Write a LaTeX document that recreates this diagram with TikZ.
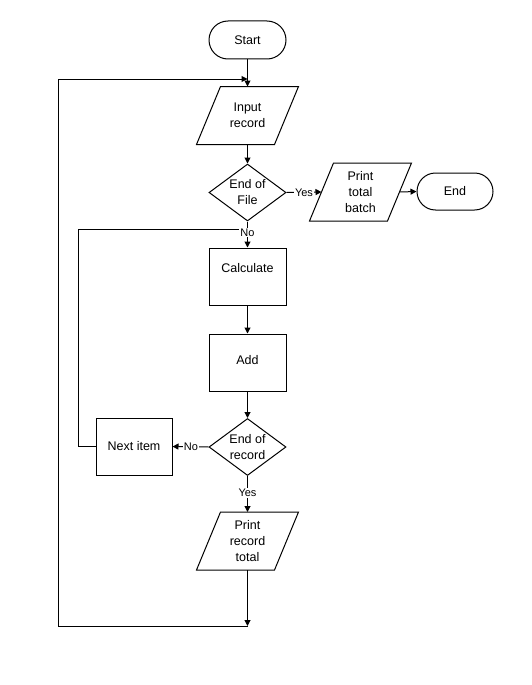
\documentclass[tikz,border=0pt]{standalone}
\usepackage{fontspec}
\setmainfont{Liberation Sans}
\usetikzlibrary{shapes.geometric,shapes.misc,arrows.meta}
\newcommand\iopath[1]{\draw ([xshift=12pt]#1.north west) -- ([xshift=12pt]#1.north east) -- ([xshift=-12pt]#1.south east) -- ([xshift=-12pt]#1.south west) -- cycle;}
\begin{document}
\begin{tikzpicture}[x=1pt,y=-1pt, line width=1pt,
 every node/.style={font=\fontsize{12.5}{16}\selectfont, align=center, inner sep=0pt},
 term/.style={draw, rounded rectangle, minimum width=77pt, minimum height=38pt},
 procbox/.style={draw, rectangle, minimum width=77pt, minimum height=57pt},
 iobox/.style={rectangle, minimum width=77pt, minimum height=57pt},
 decide/.style={draw, diamond, aspect=1.35, minimum width=77pt, minimum height=57pt},
 lbl/.style={fill=white, font=\fontsize{11}{13}\selectfont, inner sep=1pt},
 arr/.style={-{Triangle[length=6pt,width=6pt]}}]
\useasboundingbox (0,0) rectangle (532,685);
\node[term] (start) at (247.5,40) {Start};
\node[iobox] (in) at (247.5,115.5) {Input\\record};
\iopath{in}
\node[decide] (eof) at (247.5,192.5) {End of\\File};
\node[iobox] (ptb) at (360.5,192) {Print\\total\\batch};
\iopath{ptb}
\node[term, minimum width=76pt, minimum height=37pt] (endn) at (455,191.5) {End};
\node[procbox] (calc) at (247.5,276.5) {};
\node (calct) at (247.5,268) {Calculate};
\node[procbox] (add) at (247.5,362.5) {};
\node (addt) at (247.5,360) {Add};
\node[decide] (eor) at (247.5,447) {End of\\record};
\node[procbox, minimum width=76pt] (next) at (134,446.5) {Next item};
\node[iobox] (prt) at (247.5,541) {Print\\record\\total};
\iopath{prt}
\coordinate (tj) at (247.5,79);
\coordinate (tl) at (58,79);
\coordinate (bl) at (58,626);
\coordinate (bj) at (247.5,626);
\coordinate (lj) at (247.5,229);
\coordinate (ll) at (78,229);
\coordinate (nl) at (78,446.5);
\draw[arr] (start.south) -- (in.north);
\draw[arr] (in.south) -- (eof.north);
\draw[arr] (eof.east) -- (ptb.west);
\draw[arr] (ptb.east) -- (endn.west);
\draw[arr] (eof.south) -- (calc.north);
\draw[arr] (calc.south) -- (add.north);
\draw[arr] (add.south) -- (eor.north);
\draw[arr] (eor.west) -- (next.east);
\draw (next.west) -- (nl) -- (ll) -- (lj);
\draw[arr] (eor.south) -- (prt.north);
\draw[arr] (prt.south) -- (bj);
\draw[arr] (bj) -- (bl) -- (tl) -- (tj);
\node[lbl] (y1) at (304,192.5) {Yes};
\node[lbl] (n1) at (247.5,232.5) {No};
\node[lbl] (n2) at (191,446.5) {No};
\node[lbl] (y2) at (247.5,493) {Yes};
\end{tikzpicture}
\end{document}
